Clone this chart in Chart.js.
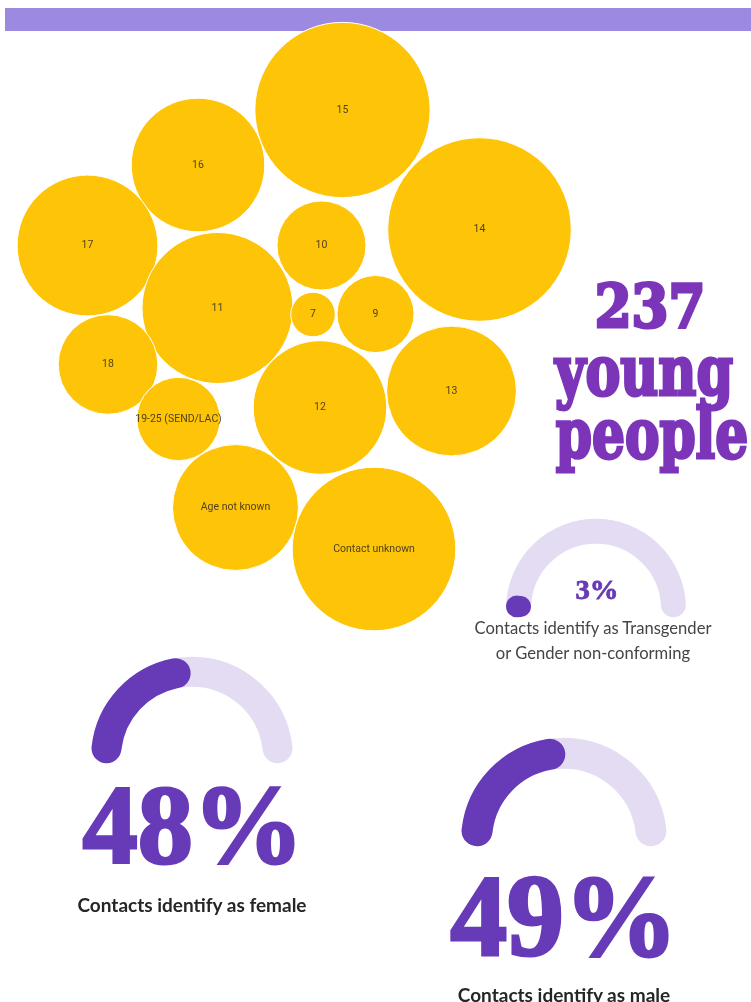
<!DOCTYPE html>
<html>
<head>
<meta charset="utf-8">
<title>Contacts by age and gender</title>
<script src="https://cdn.jsdelivr.net/npm/chart.js@4.4.1/dist/chart.umd.min.js"></script>
<style>
  html, body { margin: 0; padding: 0; background: #fff; }
  body { width: 751px; height: 1002px; position: relative; overflow: hidden; font-family: Lato, 'Open Sans', sans-serif; }
  canvas { position: absolute; pointer-events: none; }
  .band { position: absolute; left: 5px; top: 8px; width: 746px; height: 23px; background: #9c8ae0; }
  .headline {
    position: absolute; width: 300px; text-align: center; white-space: nowrap; line-height: 1;
    color: #7c35b9; -webkit-text-stroke: 3px #7c35b9;
    font-family: 'DejaVu Serif Condensed', 'DejaVu Serif', serif; font-weight: bold;
    transform-origin: 50% 50%;
  }
  .pct {
    position: absolute; width: 300px; text-align: center; white-space: nowrap; line-height: 1;
    color: #673ab7; -webkit-text-stroke: 3px #673ab7;
    font-family: 'Liberation Serif', 'DejaVu Serif', serif; font-weight: bold;
    transform-origin: 50% 50%;
  }
  .caption { position: absolute; width: 320px; text-align: center; white-space: nowrap; }
  .caption.small { font-size: 16.6px; line-height: 25px; color: #454545; }
  .caption.bold { font-size: 19px; line-height: 1; font-weight: bold; color: #262626; }
</style>
</head>
<body>
<div class="band"></div>
<canvas id="bubbles" width="751" height="640" style="left:0;top:0"></canvas>

<div class="headline" id="total" style="left:500px; top:276px; font-size:60px" data-ink="104"></div>
<div class="headline" style="left:494px; top:336px; font-size:70px" data-ink="178">young</div>
<div class="headline" style="left:502px; top:399px; font-size:70px" data-ink="190">people</div>

<div class="pct" id="pct0" style="left:447px; top:576px; font-size:28px; -webkit-text-stroke:0.8px #673ab7" data-ink="40"></div>
<div class="caption small" id="cap0" style="left:433px; top:616px"></div>

<div class="pct" id="pct1" style="left:43px; top:768px; font-size:113px" data-ink="210"></div>
<div class="caption bold" id="cap1" style="left:32px; top:895px"></div>

<div class="pct" id="pct2" style="left:414px; top:857px; font-size:117px" data-ink="217"></div>
<div class="caption bold" id="cap2" style="left:404px; top:985px"></div>

<script>
// ---- data ----
const ageGroups = ['15', '16', '17', '10', '14', '11', '7', '9', '18', '19-25 (SEND/LAC)', '12', '13', 'Age not known', 'Contact unknown'];
const contactCounts = [31, 18, 20, 8, 34, 23, 2, 6, 10, 7, 18, 17, 16, 27];
const totalYoungPeople = 237;

const genderLabels = ['Transgender\nor Gender non-conforming', 'female', 'male'];
const genderShare = [3, 48, 49];

// ---- layout ----
// packed bubble centres in plot units (plot is 751 x 640, one unit per pixel)
const bubbleX = [342.5, 198, 87.5, 321.5, 479.5, 217.5, 313, 375.5, 108, 178.5, 320, 451.5, 235.5, 374];
const bubbleY = [110, 165, 245.5, 245.5, 229.5, 308, 314.5, 314, 364.5, 419, 407.5, 391, 507.5, 549];
const BUBBLE_SCALE = 15.74; // px of radius per sqrt(contact)

const gaugeLayout = [
  { cx: 596, cy: 609, outer: 90, width: 25, border: 14 },
  { cx: 192, cy: 758, outer: 101, width: 30, border: 8 },
  { cx: 564, cy: 841, outer: 103, width: 31, border: 8 }
];
const GAUGE_ROTATION = -91;
const GAUGE_SWEEP = 182;

const colors = {
  bubble: '#fec408',
  bubbleText: 'rgba(48, 42, 30, 0.85)',
  gauge: '#673ab7',
  track: '#e4dcf3'
};

// labels drawn in the middle of each bubble
const bubbleLabels = {
  id: 'bubbleLabels',
  afterDatasetsDraw(chart) {
    const { ctx } = chart;
    const meta = chart.getDatasetMeta(0);
    ctx.save();
    ctx.font = '10.5px Roboto';
    ctx.fillStyle = colors.bubbleText;
    ctx.textAlign = 'center';
    ctx.textBaseline = 'middle';
    meta.data.forEach((el, i) => {
      ctx.fillText(chart.data.labels[i], el.x, el.y);
    });
    ctx.restore();
  }
};

new Chart(document.getElementById('bubbles'), {
  type: 'bubble',
  data: {
    labels: ageGroups,
    datasets: [{
      data: ageGroups.map((g, i) => ({ x: bubbleX[i], y: bubbleY[i], v: contactCounts[i] })),
      radius: c => (c.raw ? BUBBLE_SCALE * Math.sqrt(c.raw.v) : 3),
      backgroundColor: colors.bubble,
      borderColor: '#ffffff',
      borderWidth: 1,
      clip: false
    }]
  },
  options: {
    responsive: false,
    animation: false,
    events: [],
    layout: { padding: 0, autoPadding: false },
    plugins: { legend: { display: false }, tooltip: { enabled: false } },
    scales: {
      x: { type: 'linear', display: false, min: 0, max: 751 },
      y: { type: 'linear', display: false, min: 0, max: 640, reverse: true }
    }
  },
  plugins: [bubbleLabels]
});

function addCanvas(left, top, size) {
  const c = document.createElement('canvas');
  c.width = size;
  c.height = size;
  c.style.left = left + 'px';
  c.style.top = top + 'px';
  document.body.insertBefore(c, document.querySelector('.headline'));
  return c;
}

function gaugeOptions(radius, cutout) {
  return {
    responsive: false,
    animation: false,
    events: [],
    rotation: GAUGE_ROTATION,
    circumference: GAUGE_SWEEP,
    radius: radius,
    cutout: cutout,
    plugins: { legend: { display: false }, tooltip: { enabled: false } }
  };
}

function makeGauge(pct, g) {
  // the arc core is inset by half the border, the round-joined border gives the caps
  const r = g.outer - g.border / 2;
  const inner = g.outer - g.width + g.border / 2;
  const cutout = (inner / r * 100) + '%';
  const corner = (g.width - g.border) / 2;
  const size = Math.round(2 * g.outer + 40);
  const ext = (GAUGE_SWEEP - 180) / 2 * Math.PI / 180;
  const offY = (1 - Math.sin(ext)) / 2 * r;
  const left = Math.round(g.cx - size / 2);
  const top = Math.round(g.cy - size / 2 - offY);

  new Chart(addCanvas(left, top, size), {
    type: 'doughnut',
    data: {
      labels: ['track'],
      datasets: [{
        data: [100],
        backgroundColor: colors.track,
        borderColor: colors.track,
        borderWidth: g.border,
        borderJoinStyle: 'round',
        borderRadius: corner
      }]
    },
    options: gaugeOptions(r, cutout)
  });

  new Chart(addCanvas(left, top, size), {
    type: 'doughnut',
    data: {
      labels: ['share', 'rest'],
      datasets: [{
        data: [pct, 100 - pct],
        backgroundColor: [colors.gauge, 'rgba(0,0,0,0)'],
        borderColor: [colors.gauge, 'rgba(0,0,0,0)'],
        borderWidth: [g.border, 0],
        borderJoinStyle: 'round',
        borderRadius: corner
      }]
    },
    options: gaugeOptions(r, cutout)
  });
}

genderShare.forEach((p, i) => {
  makeGauge(p, gaugeLayout[i]);
  document.getElementById('pct' + i).textContent = p + '%';
  document.getElementById('cap' + i).innerHTML =
    ('Contacts identify as ' + genderLabels[i]).replace('\n', '<br>');
});
document.getElementById('total').textContent = String(totalYoungPeople);

// squeeze the display type to the widths of the original lettering
const measure = document.createElement('canvas').getContext('2d');
document.querySelectorAll('[data-ink]').forEach(el => {
  const cs = getComputedStyle(el);
  measure.font = `${cs.fontWeight} ${cs.fontSize} ${cs.fontFamily}`;
  const t = measure.measureText(el.textContent);
  const w = t.actualBoundingBoxLeft + t.actualBoundingBoxRight;
  el.style.transform = `scaleX(${(+el.dataset.ink / w).toFixed(3)})`;
});
</script>
</body>
</html>
